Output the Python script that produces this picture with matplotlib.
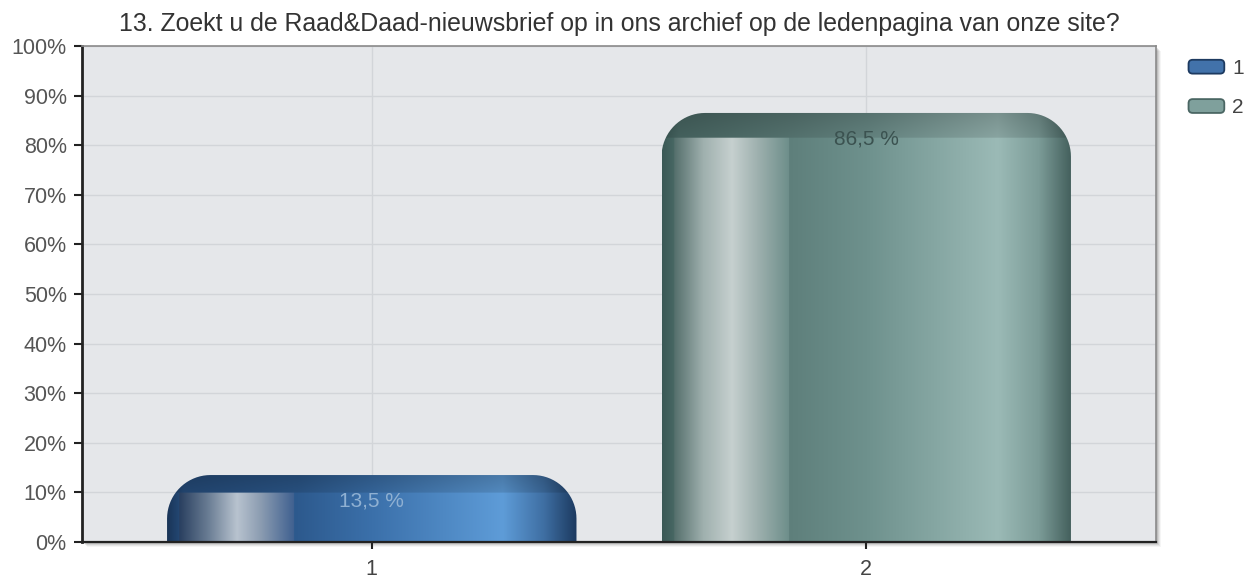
import numpy as np
import matplotlib
matplotlib.use("Agg")
import matplotlib.pyplot as plt
from matplotlib.path import Path
from matplotlib.patches import PathPatch, Patch, Rectangle, FancyBboxPatch
from matplotlib.legend_handler import HandlerPatch
from matplotlib.colors import to_rgb

plt.rcParams['font.family'] = ['Liberation Sans', 'DejaVu Sans']

TITLE = "13. Zoekt u de Raad&Daad-nieuwsbrief op in ons archief op de ledenpagina van onze site?"
categories = ["1", "2"]
values = [13.5, 86.5]
labels = ["13,5 %", "86,5 %"]
yticks = [0, 10, 20, 30, 40, 50, 60, 70, 80, 90, 100]

# horizontal gradient stops for each bar: (position, colour)
body_stops = [
    [(0.0, "#1a3558"), (0.04, "#264d7c"), (0.32, "#2d5a8e"), (0.5, "#3b70aa"),
     (0.82, "#5e9cd8"), (0.92, "#3f6fa3"), (1.0, "#1c3a60")],
    [(0.0, "#3b5956"), (0.04, "#4d6d69"), (0.32, "#5f807c"), (0.5, "#6e918d"),
     (0.82, "#9bbab6"), (0.92, "#7c9c98"), (1.0, "#435f5c")],
]
shine_stops = [
    [(0.03, "#2a4060"), (0.1, "#6a7d94"), (0.17, "#b8c3cf"), (0.23, "#8a9bb0"), (0.31, "#3f6090")],
    [(0.03, "#56706d"), (0.1, "#9fb0ae"), (0.17, "#c6d0cf"), (0.23, "#a0b2b0"), (0.31, "#6d8e8a")],
]
label_colors = ["#8fb0d2", "#3b5250"]
legend_colors = ["#4272aa", "#7fa09c"]
legend_edges = ["#1d3a60", "#4a6663"]


def grad(stops, u):
    pos = [s[0] for s in stops]
    cols = np.array([to_rgb(s[1]) for s in stops])
    return np.stack([np.interp(u, pos, cols[:, k]) for k in range(3)], axis=-1)


def bar_image(i, height, top_strip, nx=400, ny=300):
    u = np.linspace(0, 1, nx)
    yy = np.linspace(height, 0, ny)  # rows from top
    body = grad(body_stops[i], u)
    img = np.tile(body, (ny, 1, 1))
    mask_u = (u >= 0.03) & (u <= 0.31)
    shine = grad(shine_stops[i], u[mask_u])
    below = yy < height - top_strip
    for r in np.where(below)[0]:
        img[r, mask_u] = shine
    # darker top strip, a bit darker toward the very top
    for r in np.where(~below)[0]:
        f = (height - yy[r]) / top_strip
        img[r] *= 0.78 + 0.1 * f
    return np.clip(img, 0, 1)


def rounded_top_path(x0, x1, h, rx, ry):
    ry = min(ry, h)
    t = np.linspace(0, np.pi / 2, 20)
    verts = [(x0, 0)]
    cx, cy = x0 + rx, h - ry
    verts += [(cx - rx * np.cos(a), cy + ry * np.sin(a)) for a in t]
    cx = x1 - rx
    verts += [(cx + rx * np.sin(a), cy + ry * np.cos(a)) for a in t]
    verts += [(x1, 0), (x0, 0)]
    codes = [Path.MOVETO] + [Path.LINETO] * (len(verts) - 2) + [Path.CLOSEPOLY]
    return Path(verts, codes)


def round_box(legend, orig_handle, xdescent, ydescent, width, height, fontsize):
    return FancyBboxPatch((-xdescent + 1, -ydescent + 1), width - 2, height - 2,
                          boxstyle="round,pad=0,rounding_size=3")


fig = plt.figure(figsize=(12.48, 5.79), dpi=100)
ax = fig.add_axes([82 / 1248, 1 - 542 / 579, 1074 / 1248, 496 / 579])

# soft shadow behind plot area
for k, a in enumerate([0.10, 0.08, 0.06, 0.04]):
    off = (k + 2) / 1248
    offy = (k + 2) / 579
    fig.patches.append(Rectangle((82 / 1248 + off, 1 - 542 / 579 - offy), 1074 / 1248, 496 / 579,
                                 transform=fig.transFigure, facecolor="black", alpha=a,
                                 edgecolor="none", zorder=-5))

ax.set_facecolor("#e5e7ea")
x = np.arange(len(categories))
width = 0.828

ax.set_yticks(yticks)
ax.set_yticklabels([f"{v}%" for v in yticks])
ax.set_xticks(x)
ax.set_xticklabels(categories)
ax.grid(True, color="#d2d5d9", linewidth=1)
ax.set_axisbelow(True)

rx = 0.088
ry = 8.8
for i, (xc, v) in enumerate(zip(x, values)):
    x0, x1 = xc - width / 2, xc + width / 2
    img = bar_image(i, v, 3.3 + 1.9 * v / 100)
    im = ax.imshow(img, extent=[x0, x1, 0, v], aspect="auto", zorder=2, interpolation="bilinear")
    clip = PathPatch(rounded_top_path(x0, x1, v, rx, ry), transform=ax.transData,
                     facecolor="none", edgecolor="none")
    ax.add_patch(clip)
    im.set_clip_path(clip)
    ax.text(xc, v - 5.2, labels[i], ha="center", va="center", fontsize=15,
            color=label_colors[i], zorder=3)

ax.set_xlim(-0.586, len(categories) - 1 + 0.586)
ax.set_ylim(0, 100)

for s in ["top", "right"]:
    ax.spines[s].set_color("#8a8a8a")
    ax.spines[s].set_linewidth(1.2)
ax.spines["left"].set_color("#222222")
ax.spines["left"].set_linewidth(2)
ax.spines["bottom"].set_color("#222222")
ax.spines["bottom"].set_linewidth(1.6)
ax.tick_params(axis="y", length=6, width=1.5, color="#222222", labelsize=15.5,
               labelcolor="#555555", pad=5)
ax.tick_params(axis="x", length=5, width=1.5, color="#222222", labelsize=15.5,
               labelcolor="#444444", pad=7)

ax.set_title(TITLE, fontsize=17.9, color="#333333", pad=11)

handles = [Patch(facecolor=legend_colors[i], edgecolor=legend_edges[i], linewidth=1.3,
                 label=categories[i]) for i in range(len(categories))]
ax.legend(handles=handles, loc="upper left", bbox_to_anchor=(1.029, 0.975), frameon=False,
          handlelength=1.85, handleheight=0.85, borderpad=0, borderaxespad=0,
          handletextpad=0.3, labelspacing=0.95, fontsize=15, labelcolor="#444444",
          handler_map={Patch: HandlerPatch(patch_func=round_box)})

fig.savefig("out.png", dpi=100)
